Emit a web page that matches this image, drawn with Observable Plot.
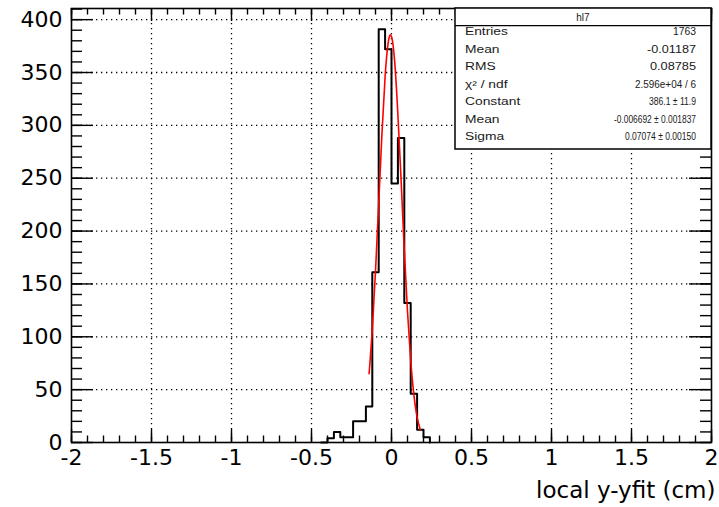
<!DOCTYPE html>
<html>
<head>
<meta charset="utf-8">
<script src="https://cdn.jsdelivr.net/npm/d3@7"></script>
<script src="https://cdn.jsdelivr.net/npm/@observablehq/plot@0.6"></script>
<style>
  html, body { margin: 0; padding: 0; background: #fff; }
</style>
</head>
<body>
<div id="chart"></div>
<script>
// ---- data ----
const binLow   = [-0.44, -0.40, -0.36, -0.32, -0.28, -0.24, -0.20, -0.16, -0.12, -0.08, -0.04, 0.00, 0.04, 0.08, 0.12, 0.16, 0.20, 0.24];
const binCount = [0, 4, 10, 5, 5, 20, 20, 34, 161, 391, 372, 245, 288, 132, 46, 12, 5, 0];

const fitX = [-0.14, -0.12, -0.10, -0.08, -0.06, -0.04, -0.02, 0.00, 0.02, 0.04, 0.06, 0.08, 0.10, 0.12, 0.14, 0.16, 0.18];
const fitY = [65, 107, 162, 226, 291, 346, 379, 384, 360, 310, 248, 182, 124, 78, 45, 24, 12];

const xTicks = [-2, -1.5, -1, -0.5, 0, 0.5, 1, 1.5, 2];
const xTickLabels = ["-2", "-1.5", "-1", "-0.5", "0", "0.5", "1", "1.5", "2"];
const yTicks = [0, 50, 100, 150, 200, 250, 300, 350, 400];
const yTickLabels = ["0", "50", "100", "150", "200", "250", "300", "350", "400"];
const xTitle = "local y-yfit (cm)";

const statsTitle = "hl7";
const statsLabels = ["Entries", "Mean", "RMS", "χ² / ndf", "Constant", "Mean", "Sigma"];
const statsValues = ["1763", "-0.01187", "0.08785", "2.596e+04 / 6", "386.1 ± 11.9", "-0.006692 ± 0.001837", "0.07074 ± 0.00150"];

// ---- layout ----
const W = 719, H = 507;
const mL = 71, mR = 8, mT = 8, mB = 65;
const plotW = W - mL - mR, plotH = H - mT - mB;
const yMax = 410.55;

const xMinor = d3.range(-20, 21).map(k => k / 10);
const yMinor = d3.range(0, 411, 10);
const xGrid = xTicks.slice(1, -1);
const yGrid = yTicks.slice(1);

const hist = binLow.map((x, i) => ({x, y: binCount[i]}));
const fit = fitX.map((x, i) => ({x, y: fitY[i]}));

const dotted = {stroke: "black", strokeWidth: 1.3, strokeDasharray: "1.3,3.7"};

const plot = Plot.plot({
  width: W, height: H,
  marginLeft: mL, marginRight: mR, marginTop: mT, marginBottom: mB,
  style: {background: "white", fontFamily: "DejaVu Sans, sans-serif", color: "black"},
  x: {domain: [-2, 2]},
  y: {domain: [0, yMax]},
  marks: [
    // grid
    Plot.ruleX(xGrid, dotted),
    Plot.ruleY(yGrid, dotted),
    // histogram
    Plot.line(hist, {x: "x", y: "y", curve: "step-after", stroke: "black", strokeWidth: 2}),
    // fit
    Plot.line(fit, {x: "x", y: "y", curve: "natural", stroke: "#ff0000", strokeWidth: 1.6}),
    // ticks (inward)
    Plot.ruleX(xMinor, {insetTop: plotH - 6.5, stroke: "black", strokeWidth: 1.4}),
    Plot.ruleX(xTicks, {insetTop: plotH - 13, stroke: "black", strokeWidth: 1.4}),
    Plot.ruleX(xMinor, {insetBottom: plotH - 6.5, stroke: "black", strokeWidth: 1.4}),
    Plot.ruleX(xTicks, {insetBottom: plotH - 13, stroke: "black", strokeWidth: 1.4}),
    Plot.ruleY(yMinor, {insetRight: plotW - 11, stroke: "black", strokeWidth: 1.4}),
    Plot.ruleY(yTicks, {insetRight: plotW - 22, stroke: "black", strokeWidth: 1.4}),
    Plot.ruleY(yMinor, {insetLeft: plotW - 11, stroke: "black", strokeWidth: 1.4}),
    Plot.ruleY(yTicks, {insetLeft: plotW - 22, stroke: "black", strokeWidth: 1.4}),
    // tick labels
    Plot.axisX(xTicks, {tickSize: 0, tickPadding: 7, label: null, fontSize: 22, fill: "black",
      tickFormat: d => xTickLabels[xTicks.indexOf(d)]}),
    Plot.axisY(yTicks, {tickSize: 0, tickPadding: 9, label: null, fontSize: 22, fill: "black",
      tickFormat: d => yTickLabels[yTicks.indexOf(d)]}),
    // axis title
    Plot.text([xTitle], {text: d => d, frameAnchor: "bottom-right", textAnchor: "end", lineAnchor: "middle",
      dx: 4, dy: 48, fontSize: 23, fill: "black"}),
    Plot.frame({stroke: "black", strokeWidth: 1.6})
  ]
});

document.getElementById("chart").appendChild(plot);

// ---- statistics box (annotation) ----
const svg = d3.select(plot);
const g = svg.append("g")
  .attr("font-family", "Liberation Sans, Arial, sans-serif")
  .attr("font-size", 10)
  .attr("fill", "#1a1a1a");
const bx0 = 455, bx1 = W - mR, by0 = mT, by1 = 149, titleBottom = 25.7;
g.append("rect").attr("x", bx0).attr("y", by0).attr("width", bx1 - bx0).attr("height", by1 - by0)
  .attr("fill", "white").attr("stroke", "black").attr("stroke-width", 1.5);
g.append("line").attr("x1", bx0).attr("x2", bx1).attr("y1", titleBottom).attr("y2", titleBottom)
  .attr("stroke", "black").attr("stroke-width", 1.2);
g.append("text").attr("x", (bx0 + bx1) / 2).attr("y", (by0 + titleBottom) / 2 + 1).attr("dy", "0.35em")
  .attr("text-anchor", "middle").text(statsTitle);
const valueWidths = [23, 49, 46, 61, 47, 82, 71];
statsLabels.forEach((lab, i) => {
  const yc = titleBottom + 6 + i * 17.5;
  g.append("text").attr("transform", `translate(465,${yc}) scale(1.38,1)`).attr("dy", "0.35em")
    .attr("text-anchor", "start").text(lab);
  g.append("text").attr("x", 696).attr("y", yc).attr("dy", "0.35em").attr("text-anchor", "end")
    .attr("textLength", valueWidths[i]).attr("lengthAdjust", "spacingAndGlyphs").text(statsValues[i]);
});
</script>
</body>
</html>
